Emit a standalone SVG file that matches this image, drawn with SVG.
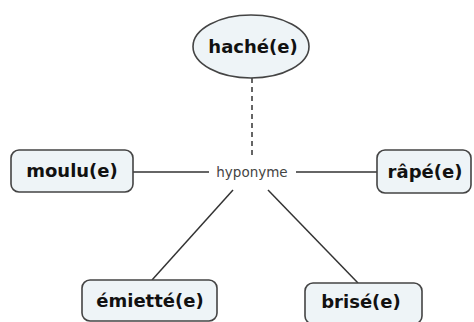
<svg xmlns="http://www.w3.org/2000/svg" width="474" height="322" viewBox="0 0 474 322">
<style>
.node{fill:#eef4f7;stroke:#444;stroke-width:1.6}
.lbl{font-family:"DejaVu Sans",Verdana,sans-serif;font-weight:bold;font-size:18px;fill:#111;text-anchor:middle}
.conn{stroke:#333;stroke-width:1.5;fill:none}
.rel{font-family:"DejaVu Sans",Verdana,sans-serif;font-size:13.5px;fill:#444;text-anchor:middle}
</style>
<rect width="474" height="322" fill="#fff"/>
<g id="connectors">
<line class="conn" x1="252" y1="78" x2="252" y2="156" stroke-dasharray="5,4"/>
<line class="conn" x1="133" y1="172" x2="209" y2="172"/>
<line class="conn" x1="296" y1="172" x2="377" y2="172"/>
<line class="conn" x1="233" y1="190" x2="152" y2="280"/>
<line class="conn" x1="268" y1="190" x2="358" y2="283"/>
<text class="rel" x="252" y="177">hyponyme</text>
</g>
<g id="hache">
<ellipse class="node" cx="251" cy="46.5" rx="58" ry="31.5"/>
<text class="lbl" x="253" y="53">haché(e)</text>
</g>
<g id="moulu">
<rect class="node" x="11" y="150" width="122" height="42" rx="8"/>
<text class="lbl" x="72" y="177">moulu(e)</text>
</g>
<g id="rape">
<rect class="node" x="377" y="150" width="94" height="43" rx="8"/>
<text class="lbl" x="425" y="178">râpé(e)</text>
</g>
<g id="emiette">
<rect class="node" x="82" y="280" width="135" height="41" rx="8"/>
<text class="lbl" x="150" y="307">émietté(e)</text>
</g>
<g id="brise">
<rect class="node" x="305" y="283" width="117" height="41" rx="8"/>
<text class="lbl" x="361" y="308">brisé(e)</text>
</g>
</svg>
